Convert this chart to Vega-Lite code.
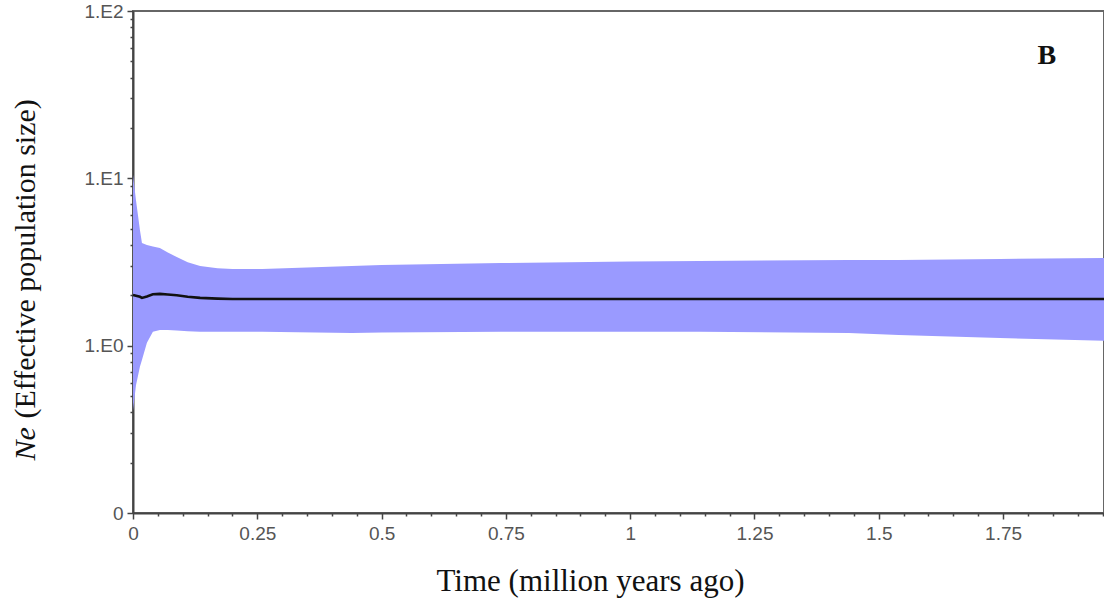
{
  "$schema": "https://vega.github.io/schema/vega-lite/v6.json",
  "width": 971,
  "height": 502,
  "autosize": {"type": "none"},
  "padding": {"left": 133, "top": 11, "right": 0, "bottom": 90},
  "background": "white",
  "config": {
    "view": {"stroke": "#666", "strokeWidth": 2}
  },
  "datasets": {
    "skyline": [
      {"t": 0, "lower": 0.41, "median": 2.01, "upper": 10.5},
      {"t": 0.006, "lower": 0.58, "median": 1.99, "upper": 7.4},
      {"t": 0.014, "lower": 0.75, "median": 1.96, "upper": 4.9},
      {"t": 0.018, "lower": 0.82, "median": 1.93, "upper": 4.11},
      {"t": 0.028, "lower": 1.04, "median": 1.97, "upper": 4.0},
      {"t": 0.04, "lower": 1.21, "median": 2.03, "upper": 3.92},
      {"t": 0.054, "lower": 1.24, "median": 2.04, "upper": 3.83},
      {"t": 0.07, "lower": 1.24, "median": 2.02, "upper": 3.6},
      {"t": 0.088, "lower": 1.23, "median": 2.0, "upper": 3.39},
      {"t": 0.11, "lower": 1.22, "median": 1.96, "upper": 3.15},
      {"t": 0.135, "lower": 1.21, "median": 1.93, "upper": 2.99},
      {"t": 0.17, "lower": 1.21, "median": 1.91, "upper": 2.9},
      {"t": 0.2, "lower": 1.21, "median": 1.9, "upper": 2.87},
      {"t": 0.26, "lower": 1.21, "median": 1.9, "upper": 2.87},
      {"t": 0.44, "lower": 1.19, "median": 1.9, "upper": 2.99},
      {"t": 0.5, "lower": 1.2, "median": 1.9, "upper": 3.03},
      {"t": 0.74, "lower": 1.21, "median": 1.9, "upper": 3.12},
      {"t": 1.0, "lower": 1.21, "median": 1.9, "upper": 3.18},
      {"t": 1.14, "lower": 1.21, "median": 1.9, "upper": 3.21},
      {"t": 1.44, "lower": 1.19, "median": 1.9, "upper": 3.25},
      {"t": 1.54, "lower": 1.16, "median": 1.9, "upper": 3.25},
      {"t": 1.744, "lower": 1.11, "median": 1.9, "upper": 3.3},
      {"t": 1.953, "lower": 1.07, "median": 1.9, "upper": 3.34}
    ],
    "panel": [{"t": 1.838, "v": 48, "text": "B"}]
  },
  "layer": [
    {
      "data": {"name": "skyline"},
      "mark": {"type": "area", "color": "#9a9aff", "opacity": 1},
      "encoding": {
        "x": {
          "field": "t", "type": "quantitative",
          "scale": {"domain": [0, 1.953], "nice": false, "zero": false},
          "axis": {
            "orient": "bottom",
            "grid": false,
            "values": [0, 0.05, 0.1, 0.15, 0.2, 0.25, 0.3, 0.35, 0.4, 0.45, 0.5, 0.55, 0.6, 0.65, 0.7, 0.75, 0.8, 0.85, 0.9, 0.95, 1, 1.05, 1.1, 1.15, 1.2, 1.25, 1.3, 1.35, 1.4, 1.45, 1.5, 1.55, 1.6, 1.65, 1.7, 1.75, 1.8, 1.85, 1.9, 1.95],
            "labelExpr": "abs(datum.value * 4 - round(datum.value * 4)) < 0.000001 ? '' + datum.value : ''",
            "domainColor": "#444",
            "domainWidth": 2,
            "tickColor": "#444",
            "tickWidth": 1.5,
            "tickSize": {"condition": {"test": "abs(datum.value * 4 - round(datum.value * 4)) < 0.000001", "value": 6}, "value": 3},
            "labelFont": "Liberation Sans",
            "labelFontSize": 19,
            "labelColor": "#555",
            "labelPadding": 5,
            "labelFlush": false,
            "labelOverlap": false,
            "title": "Time (million years ago)",
            "titleFont": "Liberation Serif",
            "titleFontSize": 31,
            "titleFontWeight": "normal",
            "titleColor": "#111",
            "titleAlign": "center",
            "titleBaseline": "alphabetic",
            "titleX": 457,
            "titleY": 77
          }
        },
        "y": {
          "field": "lower", "type": "quantitative",
          "scale": {"type": "log", "domain": [0.1, 100], "nice": false},
          "axis": {
            "orient": "left",
            "grid": false,
            "values": [0.1, 0.2, 0.3, 0.4, 0.5, 0.6, 0.7, 0.8, 0.9, 1, 2, 3, 4, 5, 6, 7, 8, 9, 10, 20, 30, 40, 50, 60, 70, 80, 90, 100],
            "labelExpr": "datum.value == 0.1 ? '0' : datum.value == 1 ? '1.E0' : datum.value == 10 ? '1.E1' : datum.value == 100 ? '1.E2' : ''",
            "domainColor": "#444",
            "domainWidth": 2,
            "tickColor": "#444",
            "tickWidth": 1.5,
            "tickSize": {"condition": {"test": "datum.value == 0.1 || datum.value == 1 || datum.value == 10 || datum.value == 100", "value": 6}, "value": 3},
            "labelFont": "Liberation Sans",
            "labelFontSize": 19,
            "labelColor": "#555",
            "labelPadding": 4,
            "labelFlush": false,
            "labelOverlap": false,
            "title": "(Effective population size)",
            "titleFont": "Liberation Serif",
            "titleFontSize": 30,
            "titleFontWeight": "normal",
            "titleColor": "#111",
            "titleAngle": -90,
            "titleAlign": "left",
            "titleBaseline": "alphabetic",
            "titleX": -99,
            "titleY": 407
          }
        },
        "y2": {"field": "upper"}
      }
    },
    {
      "data": {"name": "skyline"},
      "mark": {"type": "line", "color": "#111", "strokeWidth": 2.6},
      "encoding": {
        "x": {
          "field": "t", "type": "quantitative",
          "scale": {"domain": [0, 1.953], "nice": false, "zero": false},
          "axis": null
        },
        "y": {
          "field": "median", "type": "quantitative",
          "scale": {"type": "log", "domain": [0.1, 100], "nice": false},
          "axis": {
            "orient": "left",
            "grid": false,
            "domain": false,
            "ticks": false,
            "labels": false,
            "title": "Ne",
            "titleFont": "Liberation Serif",
            "titleFontSize": 30,
            "titleFontWeight": "normal",
            "titleFontStyle": "italic",
            "titleColor": "#111",
            "titleAngle": -90,
            "titleAlign": "left",
            "titleBaseline": "alphabetic",
            "titleX": -99,
            "titleY": 449
          }
        }
      }
    },
    {
      "data": {"name": "panel"},
      "mark": {"type": "text", "font": "Liberation Serif", "fontSize": 28, "fontWeight": "bold", "color": "#111", "align": "center", "baseline": "alphabetic"},
      "encoding": {
        "x": {"field": "t", "type": "quantitative", "scale": {"domain": [0, 1.953], "nice": false, "zero": false}, "axis": null},
        "y": {"field": "v", "type": "quantitative", "scale": {"type": "log", "domain": [0.1, 100], "nice": false}, "axis": null},
        "text": {"field": "text"}
      }
    }
  ],
  "resolve": {"axis": {"x": "independent", "y": "independent"}}
}
